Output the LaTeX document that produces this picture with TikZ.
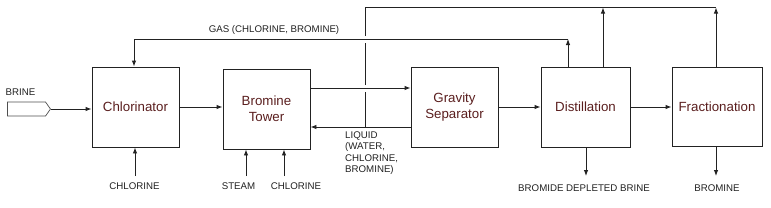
\documentclass[tikz,border=0pt]{standalone}
\usepackage{fontspec}
\setmainfont{Liberation Sans}
\usetikzlibrary{arrows.meta,shapes.symbols}
\definecolor{boxtext}{HTML}{5A1E1E}
\definecolor{ink}{HTML}{222222}
\tikzset{
  unit/.style={draw=ink, line width=0.9pt, minimum height=80pt, inner sep=0pt,
    font=\fontsize{13.3}{16}\selectfont, text=boxtext, align=center},
  lbl/.style={font=\fontsize{9.7}{11.3}\selectfont, text=ink, inner sep=0pt},
  flow/.style={draw=ink, line width=0.9pt, -{Latex[length=6pt,width=4.5pt]}},
  pipe/.style={draw=ink, line width=0.9pt},
}
\begin{document}
\begin{tikzpicture}[x=1pt,y=-1pt]
\useasboundingbox (0,0) rectangle (771,207);
% units
\node[unit, minimum width=87pt] (chl) at (135.5,107) {Chlorinator};
\node[unit, minimum width=87pt] (tow) at (266.5,109) {Bromine\\Tower};
\node[unit, minimum width=87pt] (grav) at (454.5,107) {Gravity\\Separator};
\node[unit, minimum width=89pt] (dist) at (585.5,107) {Distillation};
\node[unit, minimum width=90pt, minimum height=79pt] (frac) at (717,106.5) {Fractionation};
% brine inlet
\node[signal, signal to=east, signal pointer angle=110, draw=ink!80, line width=0.7pt,
  minimum width=43pt, minimum height=14pt, inner sep=0pt] (brine) at (26.5,109) {};
% labels
\node[lbl, anchor=base] (lbrine) at (20.5,95.5) {BRINE};
\node[lbl, anchor=base] (lgas) at (274,32.5) {GAS (CHLORINE, BROMINE)};
\node[lbl, anchor=base] (lcl1) at (134.5,189.5) {CHLORINE};
\node[lbl, anchor=base] (lsteam) at (238.5,189.5) {STEAM};
\node[lbl, anchor=base] (lcl2) at (296,189.5) {CHLORINE};
\node[lbl, anchor=north west, align=left] (lliq) at (345,131.5) {LIQUID\\(WATER,\\CHLORINE,\\BROMINE)};
\node[lbl, anchor=base] (lbdb) at (584,191.5) {BROMIDE DEPLETED BRINE};
\node[lbl, anchor=base] (lbr) at (717,191.5) {BROMINE};
% coordinates
\coordinate (in1) at (135,176);
\coordinate (in2) at (246,176);
\coordinate (in3) at (284,176);
\coordinate (out1) at (586,176);
\coordinate (out2) at (716,176);
\coordinate (j) at (365,127);
\coordinate (jA) at (365,91.5);
\coordinate (jB) at (365,85);
\coordinate (jC) at (365,42.5);
\coordinate (jD) at (365,36);
\coordinate (top) at (365,7);
\coordinate (topr) at (716,7);
\coordinate (gasr) at (568,39);
\coordinate (gasl) at (134,39);
\coordinate (dtop) at (603,7.5);
\coordinate (ftop) at (716,7.5);
\coordinate (vap) at (310,88);
\coordinate (liq) at (411,127);
% main flow
\draw[flow] (brine.east) -- (chl.west |- brine.east);
\draw[flow] (chl.east) -- (tow.west |- chl.east);
\draw[flow] (tow.east |- vap) -- (grav.west |- vap);
\draw[flow] (grav.west |- liq) -- (tow.east |- liq);
\draw[flow] (grav.east) -- (dist.west |- grav.east);
\draw[flow] (dist.east) -- (frac.west |- dist.east);
% feeds below
\draw[flow] (in1) -- (in1 |- chl.south);
\draw[flow] (in2) -- (in2 |- tow.south);
\draw[flow] (in3) -- (in3 |- tow.south);
% outputs below
\draw[flow] (dist.south -| out1) -- (out1);
\draw[flow] (frac.south -| out2) -- (out2);
% gas recycle
\draw[flow] (dist.north -| gasr) -- (gasr);
\draw[flow] (gasr) -- (gasl) -- (gasl |- chl.north);
% top recycle to liquid line (broken at crossings)
\draw[pipe] (j) -- (jA);
\draw[pipe] (jB) -- (jC);
\draw[pipe] (jD) -- (top) -- (topr);
\draw[flow] (dist.north -| dtop) -- (dtop);
\draw[flow] (frac.north -| ftop) -- (ftop);
\end{tikzpicture}
\end{document}
